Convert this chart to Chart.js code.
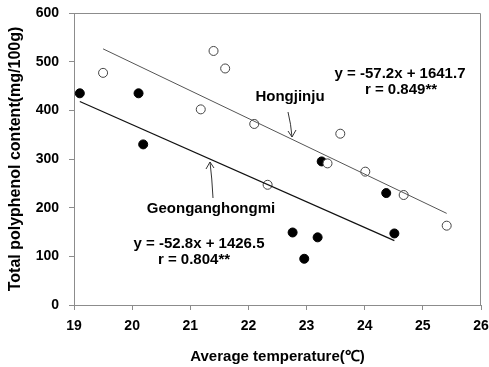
<!DOCTYPE html>
<html>
<head>
<meta charset="utf-8">
<script src="https://cdn.jsdelivr.net/npm/chart.js@4.4.0/dist/chart.umd.min.js"></script>
<style>
  html, body { margin: 0; padding: 0; background: #fff; }
  #wrap { width: 489px; height: 367px; }
</style>
</head>
<body>
<div id="wrap"><canvas id="grafico" width="489" height="367"></canvas></div>
<script>
// Datos
var hongjinjuX = [19.5, 21.4, 21.6, 21.18, 22.1, 22.33, 23.36, 23.58, 24.01, 24.67, 25.41];
var hongjinjuY = [477, 522, 486, 402, 372, 247, 291, 352, 274, 226, 163];
var geongX = [19.1, 20.11, 20.19, 22.76, 22.96, 23.19, 23.26, 24.37, 24.51];
var geongY = [435, 435, 330, 149, 95, 139, 295, 230, 147];

// Rectas de regresion (pendiente, ordenada)
var hongjinjuFit = [-57.2, 1641.7];
var geongFit = [-52.8, 1426.5];

var xTicks = [19, 20, 21, 22, 23, 24, 25, 26];
var yTicks = [0, 100, 200, 300, 400, 500, 600];

function puntos(xs, ys) {
  return xs.map(function (x, i) { return { x: x, y: ys[i] }; });
}
function recta(xs, fit) {
  var a = Math.min.apply(null, xs), b = Math.max.apply(null, xs);
  return [{ x: a, y: fit[0] * a + fit[1] }, { x: b, y: fit[0] * b + fit[1] }];
}

var fuente = '"Liberation Sans", Arial, sans-serif';

// Marco, textos y flechas
var anotaciones = {
  id: 'anotaciones',
  afterDraw: function (chart) {
    var ctx = chart.ctx, a = chart.chartArea;
    ctx.save();
    ctx.strokeStyle = '#8c8c8c';
    ctx.lineWidth = 1;
    ctx.beginPath();
    ctx.moveTo(a.left, a.top + 0.5);
    ctx.lineTo(a.right - 0.5, a.top + 0.5);
    ctx.lineTo(a.right - 0.5, a.bottom);
    ctx.stroke();

    ctx.fillStyle = '#000';
    ctx.font = 'bold 15px ' + fuente;
    ctx.textAlign = 'center';
    ctx.textBaseline = 'middle';
    ctx.fillText('y = -57.2x + 1641.7', 400, 74);
    ctx.fillText('r = 0.849**', 401, 90);
    ctx.fillText('Hongjinju', 290, 97);
    ctx.fillText('Geonganghongmi', 211, 209);
    ctx.fillText('y = -52.8x + 1426.5', 199, 244);
    ctx.fillText('r = 0.804**', 194, 260);

    ctx.strokeStyle = '#333';
    ctx.lineWidth = 1;
    // flecha Hongjinju
    ctx.beginPath();
    ctx.moveTo(288, 112);
    ctx.quadraticCurveTo(291, 124, 292, 137);
    ctx.moveTo(288, 131);
    ctx.lineTo(292, 137);
    ctx.lineTo(296, 130);
    ctx.stroke();
    // flecha Geonganghongmi
    ctx.beginPath();
    ctx.moveTo(213, 198);
    ctx.quadraticCurveTo(212, 178, 210, 162);
    ctx.moveTo(206, 169);
    ctx.lineTo(210, 162);
    ctx.lineTo(214, 168);
    ctx.stroke();
    ctx.restore();
  }
};

new Chart(document.getElementById('grafico').getContext('2d'), {
  type: 'scatter',
  data: {
    datasets: [
      {
        label: 'Hongjinju fit',
        type: 'line',
        data: recta(hongjinjuX, hongjinjuFit),
        borderColor: '#555',
        borderWidth: 1,
        pointRadius: 0,
        fill: false
      },
      {
        label: 'Geonganghongmi fit',
        type: 'line',
        data: recta(geongX, geongFit),
        borderColor: '#111',
        borderWidth: 1.2,
        pointRadius: 0,
        fill: false
      },
      {
        label: 'Hongjinju',
        data: puntos(hongjinjuX, hongjinjuY),
        pointRadius: 4.5,
        pointBackgroundColor: '#fff',
        pointBorderColor: '#444',
        pointBorderWidth: 1
      },
      {
        label: 'Geonganghongmi',
        data: puntos(geongX, geongY),
        pointRadius: 4.5,
        pointBackgroundColor: '#000',
        pointBorderColor: '#000',
        pointBorderWidth: 1
      }
    ]
  },
  options: {
    responsive: false,
    animation: false,
    layout: { padding: { top: 13, right: 8, left: 0, bottom: 0 } },
    plugins: { legend: { display: false }, tooltip: { enabled: false } },
    scales: {
      x: {
        type: 'linear',
        min: 19,
        max: 26,
        afterBuildTicks: function (s) { s.ticks = xTicks.map(function (v) { return { value: v }; }); },
        afterFit: function (s) {
          s.height = 62;
          s.paddingLeft = 0; s.paddingRight = 0;
        },
        grid: { drawOnChartArea: false, drawTicks: true, tickLength: 5, color: '#8c8c8c' },
        border: { color: '#8c8c8c' },
        ticks: {
          color: '#000', font: { family: fuente, size: 14, weight: 'bold' },
          padding: 8, maxRotation: 0, autoSkip: false
        },
        title: {
          display: true,
          text: 'Average temperature(℃)',
          color: '#000',
          font: { family: fuente, size: 15, weight: 'bold' },
          padding: { top: 4, bottom: 1 }
        }
      },
      y: {
        min: 0,
        max: 600,
        afterBuildTicks: function (s) { s.ticks = yTicks.map(function (v) { return { value: v }; }); },
        afterFit: function (s) {
          s.width = 74;
          s.paddingTop = 0; s.paddingBottom = 0;
        },
        grid: { drawOnChartArea: false, drawTicks: true, tickLength: 5, color: '#8c8c8c' },
        border: { color: '#8c8c8c' },
        ticks: { color: '#000', font: { family: fuente, size: 14, weight: 'bold' }, padding: 10, autoSkip: false },
        title: {
          display: true,
          text: 'Total polyphenol content(mg/100g)',
          color: '#000',
          font: { family: fuente, size: 16, weight: 'bold' },
          padding: { top: 6, bottom: 2 }
        }
      }
    }
  },
  plugins: [anotaciones]
});
</script>
</body>
</html>
